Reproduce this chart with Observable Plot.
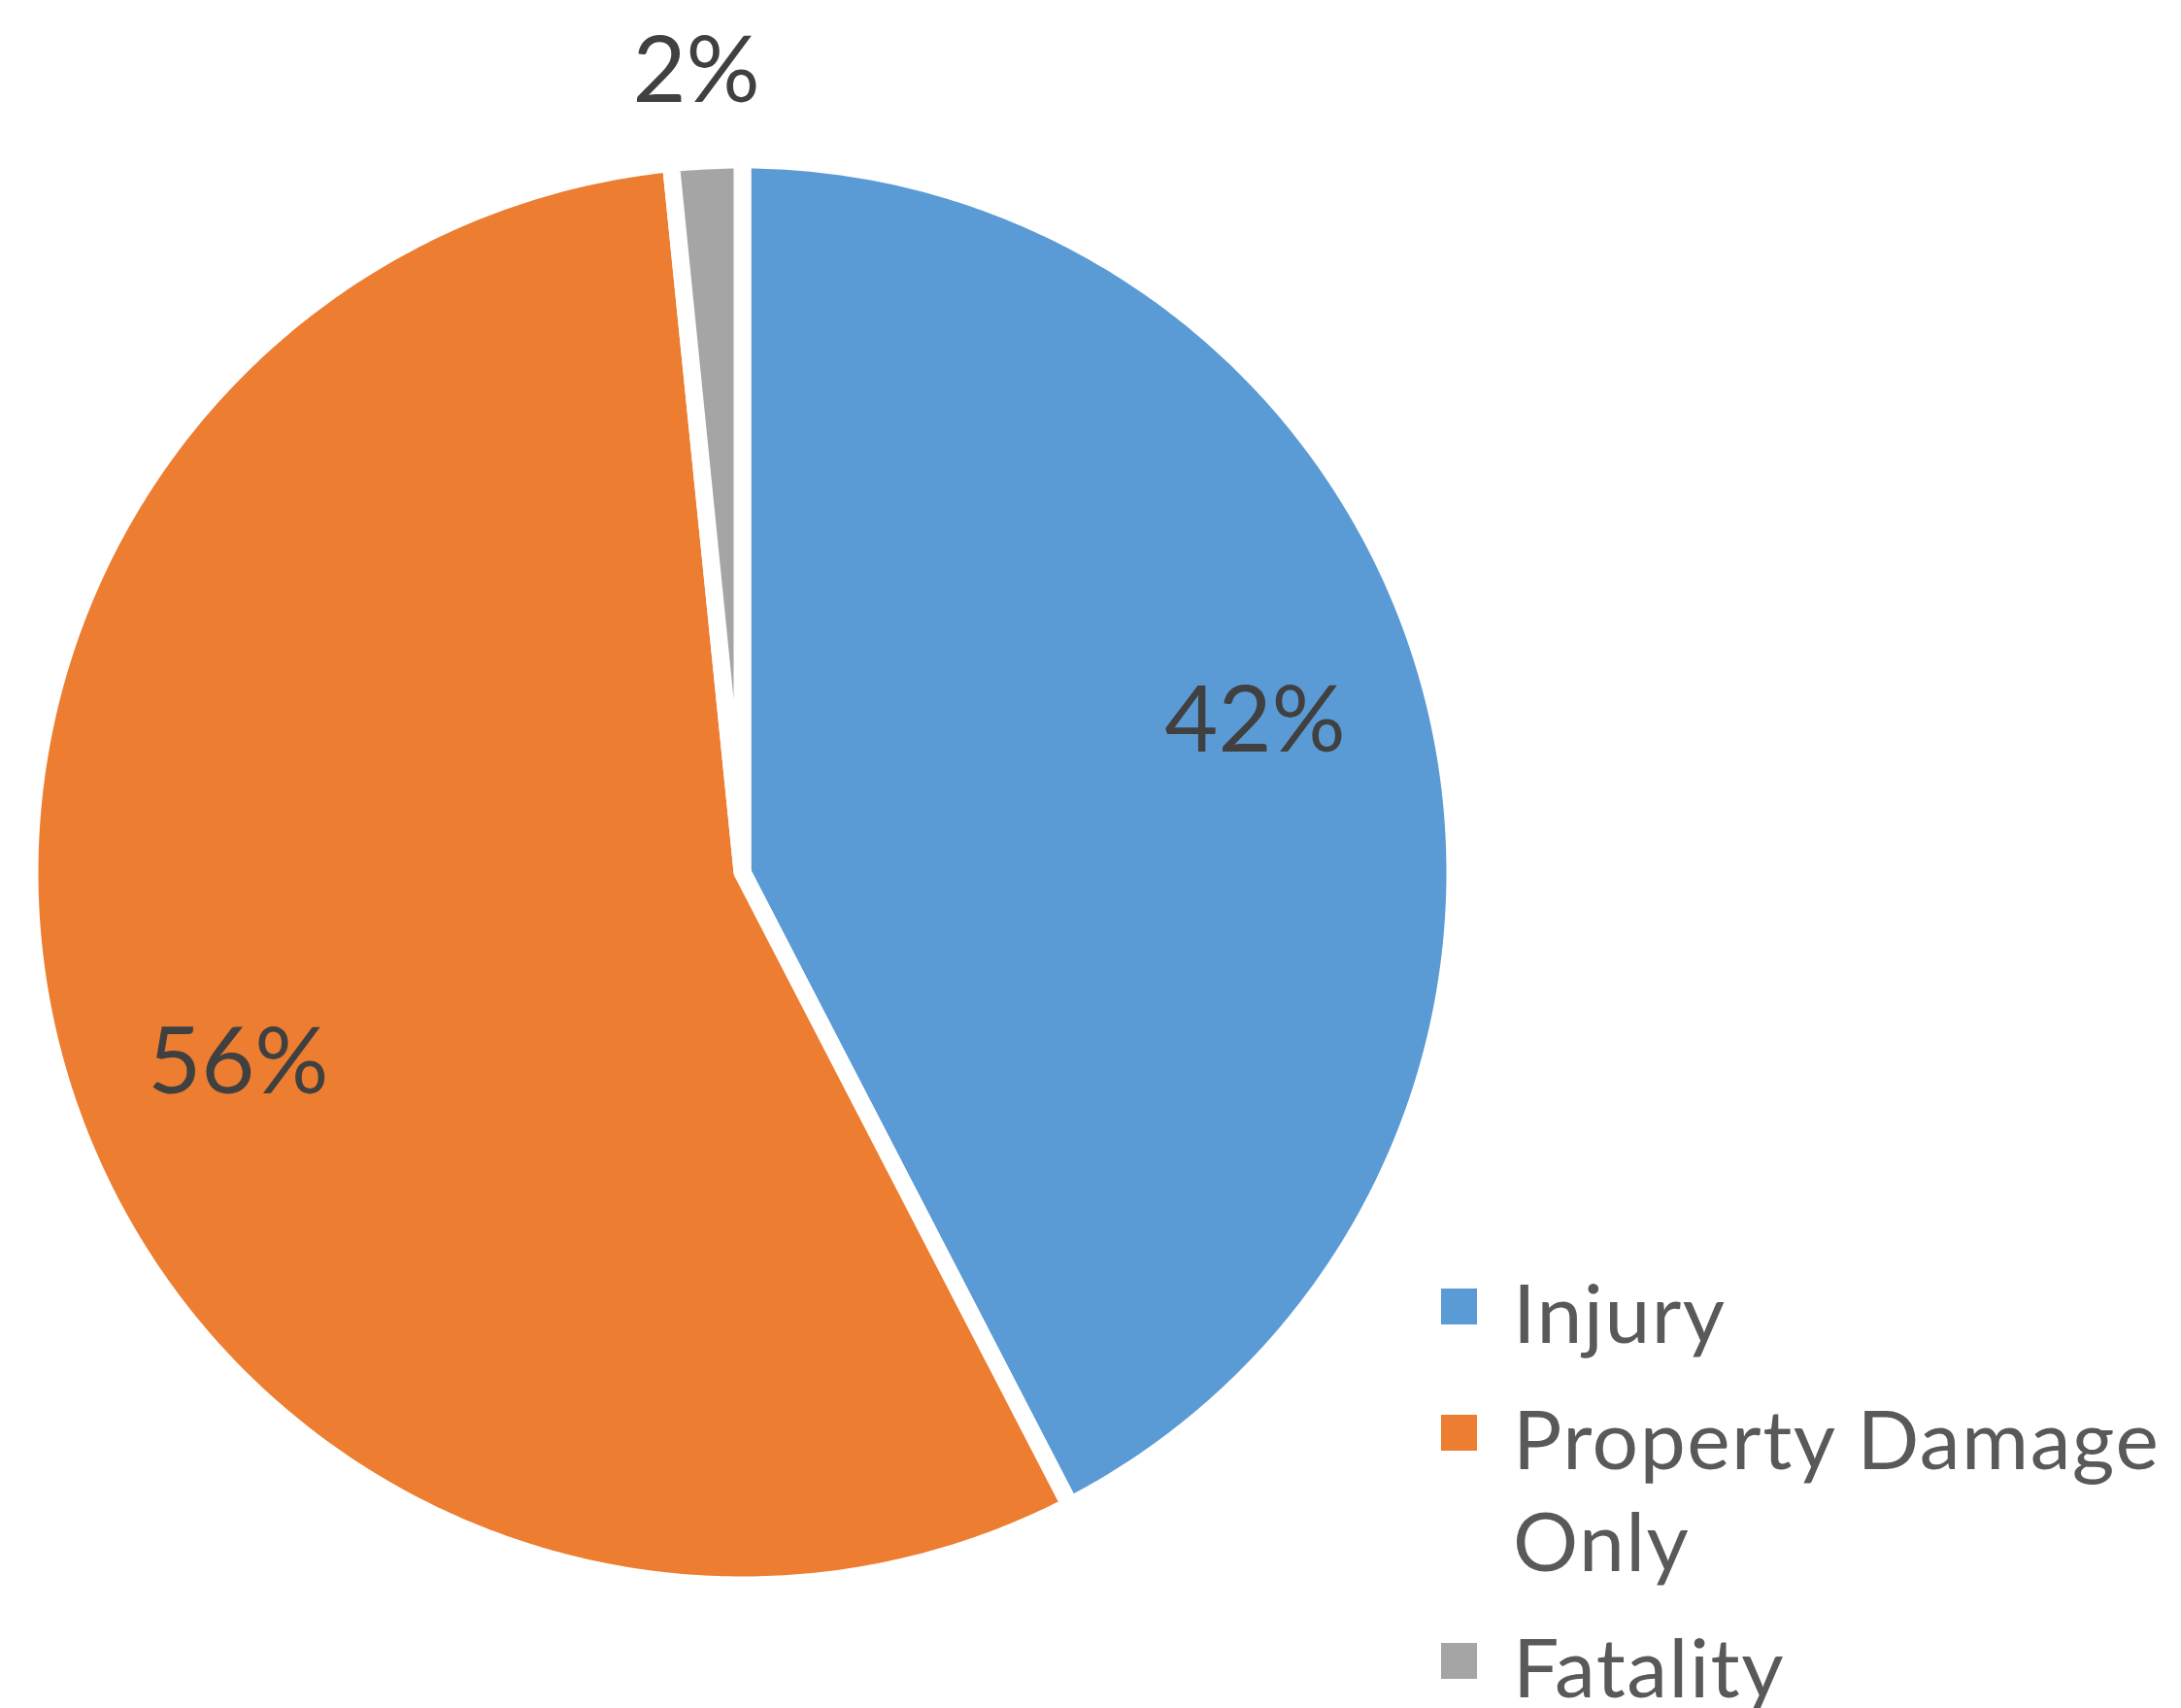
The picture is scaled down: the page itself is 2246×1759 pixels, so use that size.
<!DOCTYPE html>
<html>
<head>
<meta charset="utf-8">
<script src="https://cdn.jsdelivr.net/npm/d3@7"></script>
<script src="https://cdn.jsdelivr.net/npm/@observablehq/plot@0.6"></script>
<style>
  html, body { margin: 0; padding: 0; background: #ffffff; }
  #wrap { position: relative; width: 2246px; height: 1759px; font-family: Lato, "Open Sans", sans-serif; }
  #legend { position: absolute; left: 1484px; top: 1298px; width: 762px; }
  .item { position: relative; padding-left: 74px; font-size: 84px; line-height: 105px; color: #595959; margin-bottom: 25px; width: 680px; letter-spacing: 1.5px; }
  .sw { position: absolute; left: 0; top: 29px; width: 37px; height: 37px; }
</style>
</head>
<body>
<div id="wrap"></div>
<script>
// ---- data ----
const categories = ["Injury", "Property Damage Only", "Fatality"];
const shares = [42.4, 56.0, 1.6];           // percent of crashes
const labels = ["42%", "56%", "2%"];
const colors = ["#5B9BD5", "#ED7D31", "#A5A5A5"];

// ---- layout constants (pixels) ----
const W = 2246, H = 1759;
const cx = 764, cy = 898, R = 734;   // pie centre and path radius

const arcs = d3.pie().sort(null).value(d => d)(shares);

// polygon outline of every slice (centre + sampled arc), in unit-radius coordinates
const slicePts = [];
arcs.forEach((a, i) => {
  slicePts.push({cat: categories[i], x: 0, y: 0});
  const n = Math.max(4, Math.ceil((a.endAngle - a.startAngle) / (Math.PI / 360)));
  for (let k = 0; k <= n; k++) {
    const t = a.startAngle + (a.endAngle - a.startAngle) * k / n;
    slicePts.push({cat: categories[i], x: Math.sin(t), y: Math.cos(t)});
  }
});

// label anchors
const nudge = -3.5 * Math.PI / 180;
const labelPts = arcs.map((a, i) => {
  const mid = (a.startAngle + a.endAngle) / 2;
  const outside = shares[i] < 5;
  const r = outside ? 1.128 : 0.753;
  const t = outside ? mid - 0.4 * Math.PI / 180 : mid + nudge;
  return {cat: categories[i], text: labels[i], x: r * Math.sin(t), y: r * Math.cos(t), outside};
});

const chart = Plot.plot({
  width: W,
  height: H,
  margin: 0,
  style: {fontFamily: "Lato, 'Open Sans', sans-serif", background: "transparent"},
  x: {domain: [-cx / R, (W - cx) / R], range: [0, W], axis: null},
  y: {domain: [-(H - cy) / R, cy / R], range: [H, 0], axis: null},
  color: {domain: categories, range: colors},
  marks: [
    Plot.line(slicePts, {
      x: "x", y: "y", z: "cat", fill: "cat",
      stroke: "white", strokeWidth: 18,
      strokeLinejoin: "miter", strokeMiterlimit: 4,
      curve: "linear-closed"
    }),
    Plot.text(labelPts.filter(d => !d.outside), {
      x: "x", y: "y", text: "text", dy: 8,
      fill: "#404040", fontSize: 95, textAnchor: "middle", lineAnchor: "middle"
    }),
    Plot.text(labelPts.filter(d => d.outside), {
      x: "x", y: "y", text: "text", dy: 3,
      fill: "#404040", fontSize: 95, textAnchor: "middle", lineAnchor: "middle"
    })
  ]
});

const wrap = document.getElementById("wrap");
wrap.appendChild(chart);

// legend
const legend = document.createElement("div");
legend.id = "legend";
categories.forEach((c, i) => {
  const item = document.createElement("div");
  item.className = "item";
  const sw = document.createElement("span");
  sw.className = "sw";
  sw.style.background = colors[i];
  item.appendChild(sw);
  item.appendChild(document.createTextNode(c));
  legend.appendChild(item);
});
wrap.appendChild(legend);
</script>
</body>
</html>
